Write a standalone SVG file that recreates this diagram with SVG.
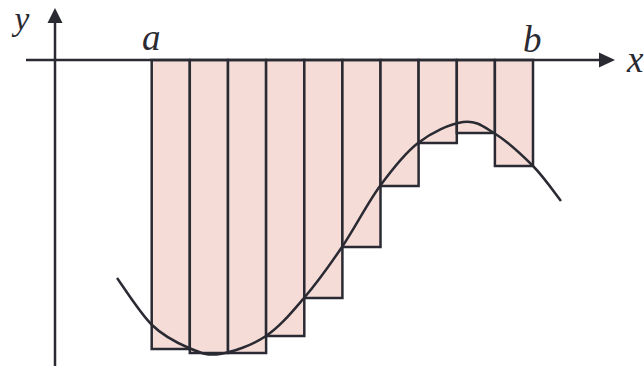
<svg xmlns="http://www.w3.org/2000/svg" width="644" height="368" viewBox="0 0 644 368">
<style>
.bar{fill:#F5DCD7;stroke:#2A2A33;stroke-width:2.5;stroke-linejoin:miter}
.ax{stroke:#2A2A33;stroke-width:2.5;fill:none}
.curve{stroke:#2A2A33;stroke-width:2.5;fill:none}
.head{fill:#2A2A33}
.lbl{font-family:"Liberation Serif","DejaVu Serif",serif;font-style:italic;font-size:37px;fill:#2A2A33}
</style>
<g id="bars">
<rect class="bar" x="151.7" y="60" width="38.1" height="289"/>
<rect class="bar" x="189.8" y="60" width="38.2" height="293"/>
<rect class="bar" x="228" y="60" width="38.1" height="293"/>
<rect class="bar" x="266.1" y="60" width="38.2" height="276"/>
<rect class="bar" x="304.3" y="60" width="38.1" height="238"/>
<rect class="bar" x="342.4" y="60" width="38.1" height="187"/>
<rect class="bar" x="380.5" y="60" width="38.1" height="126"/>
<rect class="bar" x="418.6" y="60" width="38.2" height="83"/>
<rect class="bar" x="456.8" y="60" width="38.1" height="73"/>
<rect class="bar" x="494.9" y="60" width="38.1" height="106"/>
</g>
<g id="curve">
<path class="curve" d="M117,278 C122.8,285.8 140,313.3 152,325 C164,336.7 177.7,343.2 189,348 C200.3,352.8 207.2,356 220,354 C232.8,352 252,345.3 266,336 C280,326.7 291.3,312.8 304,298 C316.7,283.2 329.3,265.7 342,247 C354.7,228.3 367.3,203.3 380,186 C392.7,168.7 404.2,153.7 418,143 C431.8,132.3 450.3,123.7 463,122 C475.7,120.3 482.3,125.7 494,133 C505.7,140.3 521.8,154.7 533,166 C544.2,177.3 556.3,195.2 561,201"/>
</g>
<g id="axes">
<line class="ax" x1="26" y1="60" x2="602" y2="60"/>
<line class="ax" x1="55" y1="366" x2="55" y2="20"/>
<polygon class="head" points="615,60 599,52.5 599,67.5"/>
<polygon class="head" points="55,8 47.5,23 62.5,23"/>
</g>
<g id="labels">
<text class="lbl" x="14.5" y="30" style="font-size:33.5px">y</text>
<text class="lbl" x="142" y="50">a</text>
<text class="lbl" x="523" y="52">b</text>
<text class="lbl" x="627" y="72">x</text>
</g>
</svg>
